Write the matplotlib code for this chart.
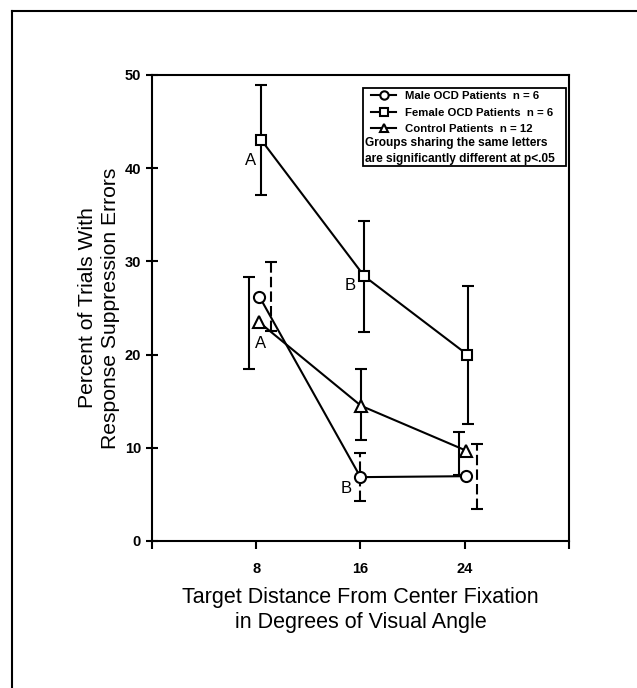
import matplotlib.pyplot as plt
from matplotlib.lines import Line2D
from matplotlib.patches import Rectangle

plt.rcParams['font.family'] = ['Liberation Sans', 'DejaVu Sans']

# marker positions (points are drawn slightly staggered in the original)
male_x = [8.25, 16.0, 24.1]
male_y = [26.2, 6.85, 6.95]
male_err_x = [9.15, 16.0, 24.95]
male_err = [3.7, 2.55, 3.5]

female_x = [8.4, 16.3, 24.2]
female_y = [43.0, 28.4, 20.0]
female_err_x = [8.4, 16.3, 24.25]
female_err = [5.9, 5.95, 7.4]

control_x = [8.2, 16.05, 24.1]
control_y = [23.5, 14.5, 9.7]
control_err_x = [7.45, 16.05, 23.55]
control_err_y = [23.4, 14.6, 9.4]
control_err = [4.9, 3.8, 2.3]

letters = ['A', 'A', 'B', 'B']
letter_x = [7.55, 8.3, 15.2, 14.9]
letter_y = [40.8, 21.2, 27.4, 5.6]

xticks = [8, 16, 24]
yticks = [0, 10, 20, 30, 40, 50]

fig = plt.figure(figsize=(6.37, 6.88), dpi=100)
ax = fig.add_axes([0.2386, 0.2137, 0.6546, 0.6773])

lw = 1.5
# error bars
ax.errorbar(female_err_x, female_y, yerr=female_err, fmt='none', ecolor='black',
            elinewidth=lw, capsize=4, capthick=lw)
ax.errorbar(control_err_x, control_err_y, yerr=control_err, fmt='none', ecolor='black',
            elinewidth=lw, capsize=4, capthick=lw)
eb = ax.errorbar(male_err_x, male_y, yerr=male_err, fmt='none', ecolor='black',
                 elinewidth=lw, capsize=4, capthick=lw)
eb[2][0].set_linestyle((0, (5, 2)))

# series
ax.plot(male_x, male_y, color='black', lw=lw, marker='o', ms=8,
        mfc='white', mec='black', mew=1.5, label='Male OCD Patients  n = 6', zorder=3)
ax.plot(female_x, female_y, color='black', lw=lw, marker='s', ms=7,
        mfc='white', mec='black', mew=1.5, label='Female OCD Patients  n = 6', zorder=3)
ax.plot(control_x, control_y, color='black', lw=lw, marker='^', ms=8,
        mfc='white', mec='black', mew=1.5, label='Control Patients  n = 12', zorder=3)

for t, x, y in zip(letters, letter_x, letter_y):
    ax.text(x, y, t, fontsize=12, ha='center', va='center')

ax.set_xlim(0, 32)
ax.set_ylim(0, 50)
ax.set_xticks([0] + xticks + [32])
ax.set_xticklabels([''] + [str(v) for v in xticks] + [''])
ax.set_yticks(yticks)
ax.tick_params(axis='x', direction='out', length=6, width=1.5, pad=9,
               labelsize=10.5)
ax.tick_params(axis='y', direction='inout', length=8, width=1.5, pad=4,
               labelsize=10.5)
for lab in ax.get_xticklabels() + ax.get_yticklabels():
    lab.set_fontweight('bold')
for s in ax.spines.values():
    s.set_linewidth(1.5)

ax.set_xlabel('Target Distance From Center Fixation\nin Degrees of Visual Angle',
              fontsize=15.5, labelpad=8, linespacing=1.25)
ax.set_ylabel('Percent of Trials With\nResponse Suppression Errors',
              fontsize=15.2, labelpad=3, linespacing=1.3)

# legend box
box_x0, box_x1 = 0.505, 0.993
box_y0, box_y1 = 0.804, 0.972
ax.add_patch(Rectangle((box_x0, box_y0), box_x1 - box_x0, box_y1 - box_y0,
                       transform=ax.transAxes, fill=False, ec='black', lw=1.3,
                       zorder=5))
leg = ax.legend(loc='upper left', bbox_to_anchor=(box_x0 + 0.012, box_y1),
                frameon=False, prop={'size': 8.2, 'weight': 'bold'},
                handlelength=2.2, handletextpad=0.8, labelspacing=0.55,
                borderpad=0.3, borderaxespad=0, markerscale=0.75)
ax.text(box_x0 + 0.006, 0.853, 'Groups sharing the same letters',
        transform=ax.transAxes, fontsize=8.6, fontweight='bold', va='center')
ax.text(box_x0 + 0.006, 0.820, 'are significantly different at p<.05',
        transform=ax.transAxes, fontsize=8.6, fontweight='bold', va='center')

# outer frame of the figure panel
fig.add_artist(Line2D([0.019, 1.0], [0.984, 0.984], color='black', lw=1.5))
fig.add_artist(Line2D([0.019, 0.019], [0.0, 0.984], color='black', lw=1.5))

fig.savefig('out.png', dpi=100)
